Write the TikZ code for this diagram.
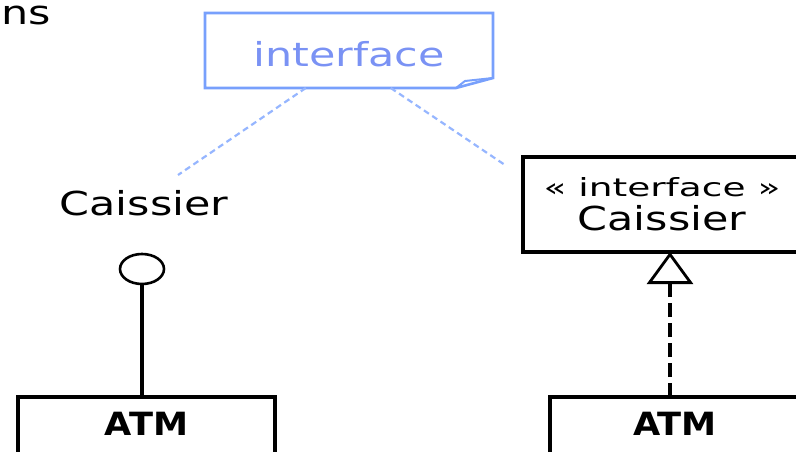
\documentclass[tikz,border=0pt]{standalone}
\usepackage{fontspec}
\setmainfont{DejaVu Sans}
\newfontfamily\umlwide{DejaVu Sans}[FakeStretch=1.3]
\newfontfamily\umlstereo{DejaVu Sans}[FakeStretch=1.5]
\newfontfamily\umlbold{DejaVu Sans}[FakeStretch=1.1]
\usepackage{tikz}
\usetikzlibrary{arrows.meta,calc,positioning,shapes.geometric}
\definecolor{noteblue}{RGB}{120,160,252}
\definecolor{notetext}{RGB}{122,146,244}
\definecolor{linkblue}{RGB}{150,182,255}
\tikzset{
  classbox/.style={draw, line width=3.2pt, fill=white, inner sep=0pt, outer sep=0pt},
  nametext/.style={font=\umlwide\fontsize{33}{34}\selectfont},
  atmtext/.style={font=\umlbold\bfseries\fontsize{32}{34}\selectfont, text height=23pt, text depth=11pt},
  notelink/.style={linkblue, line width=2.2pt, dash pattern=on 6pt off 4pt},
  realize/.style={line width=3.2pt, dash pattern=on 14pt off 6pt,
    -{Triangle[open, length=32pt, width=46pt, line width=2.8pt]}},
}
\begin{document}
\begin{tikzpicture}[x=1pt, y=-1pt]
\useasboundingbox (0,0) rectangle (796,452);
\clip (0,0) rectangle (796,452);
\node[nametext, anchor=base west] (heading) at (-2,25) {ns};

% note attached to both notations
\node[nametext, text=notetext, minimum width=288pt, minimum height=75pt,
  text height=33pt, text depth=0pt, outer sep=0pt] (note) at (349,50.5) {interface};
\draw[noteblue, line width=2.6pt] (note.north west) -- (note.north east)
  -- ($(note.south east)+(0,-10)$) -- ($(note.south east)+(-37,0)$)
  -- (note.south west) -- cycle;
\draw[noteblue, line width=2pt] ($(note.south east)+(-37,0)$)
  -- ($(note.south east)+(-28,-7)$) -- ($(note.south east)+(0,-10)$);

% lollipop notation
\node[nametext] (lollabel) at (144,203.5) {Caissier};
\node[draw, ellipse, line width=2.6pt, minimum width=44pt, minimum height=30pt,
  inner sep=0pt] (lolly) at (142,269) {};
\node[classbox, atmtext, minimum width=257pt, minimum height=64pt, anchor=north]
  (atmL) at (146.5,397) {ATM};
\draw[line width=3.2pt] (lolly.south) -- (lolly.south |- atmL.north);

% class notation
\node[classbox, minimum width=278pt, minimum height=95pt, align=center,
  font=\fontsize{33}{34}\selectfont] (iface) at (662,204.5)
  {{\umlstereo\fontsize{25}{34}\selectfont « interface »}\\{\umlwide Caissier}};
\node[classbox, atmtext, minimum width=250pt, minimum height=64pt, anchor=north]
  (atmR) at (675,397) {ATM};
\draw[realize] ($(atmR.north)+(-5,0)$) coordinate (rbase) -- (rbase |- iface.south);

\coordinate (leftend) at (178,175);
\coordinate (rightend) at (505,165);
\draw[notelink] ($(note.south west)!0.35!(note.south east)$) -- (leftend);
\draw[notelink] ($(note.south west)!0.645!(note.south east)$) -- (rightend);
\end{tikzpicture}
\end{document}
